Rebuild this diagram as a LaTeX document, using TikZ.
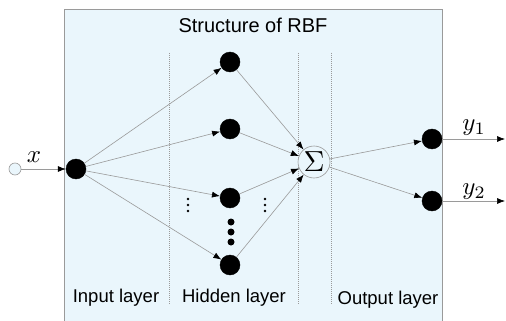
\documentclass[tikz,border=0pt]{standalone}
\usepackage{fontspec}
\setsansfont{Liberation Sans}
\usetikzlibrary{arrows.meta}
\definecolor{boxblue}{HTML}{EAF6FC}
\definecolor{edgegray}{HTML}{9A9A9A}
\tikzset{
  neuron/.style={circle,fill=black,draw=black,inner sep=0pt,minimum size=20pt},
  smalldot/.style={circle,fill=black,inner sep=0pt,minimum size=7pt},
  tinydot/.style={circle,fill=black,inner sep=0pt,minimum size=2.8pt},
  conn/.style={draw=edgegray,line width=0.6pt,-{Latex[color=black,length=8pt,width=6pt]}},
  sep/.style={draw=edgegray,line width=0.6pt,dash pattern=on 1pt off 1pt},
  lbl/.style={font=\sffamily\fontsize{18.5}{20}\selectfont,inner sep=0pt},
  mlbl/.style={font=\fontsize{10}{12}\selectfont,inner sep=0pt}
}
\begin{document}
\begin{tikzpicture}[x=1pt,y=-1pt]
\useasboundingbox (0,0) rectangle (506,321);
\fill[white] (0,0) rectangle (506,321);
\fill[boxblue] (64,9) rectangle (442,321);
\draw[edgegray,line width=0.8pt] (64,321) -- (64,9) -- (442,9) -- (442,321);
\node[lbl,font=\sffamily\fontsize{20}{22}\selectfont] (title) at (253,25) {Structure of RBF};
% separators
\draw[sep] (169,53) -- (169,305);
\draw[sep] (298,53) -- (298,305);
\draw[sep] (331,53) -- (331,305);
% nodes
\node[circle,draw=edgegray,fill=boxblue,line width=0.6pt,inner sep=0pt,minimum size=12pt] (in0) at (15,169) {};
\node[mlbl] (xl) at (34,157) {\scalebox{2.5}{$x$}};
\node[neuron] (in) at (76,169) {};
\node[neuron] (h1) at (230,62) {};
\node[neuron] (h2) at (230,129) {};
\node[neuron] (h3) at (230,198) {};
\node[neuron] (h4) at (230,265) {};
\node[smalldot] (d1) at (231,222) {};
\node[smalldot] (d2) at (231,232) {};
\node[smalldot] (d3) at (231,242) {};
\foreach \xx/\nm in {188/a,265/b} {
  \node[tinydot] (v\nm1) at (\xx,199) {};
  \node[tinydot] (v\nm2) at (\xx,205) {};
  \node[tinydot] (v\nm3) at (\xx,211) {};
}
\node[circle,draw=edgegray,fill=boxblue,line width=0.6pt,inner sep=0pt,minimum size=32pt] (sum) at (314,162) {};
\node[mlbl] (sig) at (314,162) {\scalebox{2.9}{$\Sigma$}};
\node[neuron] (o1) at (432,139) {};
\node[neuron] (o2) at (432,201) {};
\coordinate (e1) at (505,139);
\coordinate (e2) at (505,201);
\node[mlbl] (y1) at (474,128) {\scalebox{2.5}{$y_1$}};
\node[mlbl] (y2) at (474,192) {\scalebox{2.5}{$y_2$}};
% labels
\node[lbl] (li) at (116,298) {Input layer};
\node[lbl] (lh) at (234,298) {Hidden layer};
\node[lbl] (lo) at (388,300) {Output layer};
% connections
\draw[conn] (in0) -- (in);
\foreach \h in {h1,h2,h3,h4} {
  \draw[conn] (in) -- (\h);
  \draw[conn] (\h) -- (sum);
}
\draw[conn] (sum) -- (o1);
\draw[conn] (sum) -- (o2);
\draw[conn] (o1) -- (e1);
\draw[conn] (o2) -- (e2);
\end{tikzpicture}
\end{document}
